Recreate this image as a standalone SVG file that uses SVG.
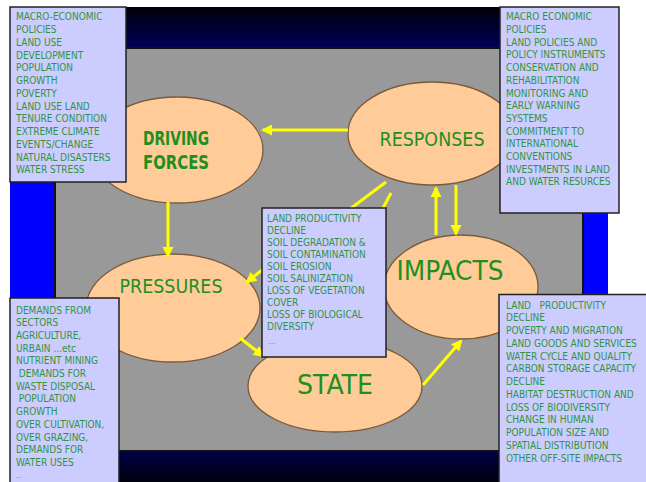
<svg xmlns="http://www.w3.org/2000/svg" width="646" height="482" viewBox="0 0 646 482">
<defs>
<linearGradient id="gTop" x1="0" y1="0" x2="0" y2="1">
<stop offset="0" stop-color="#000008"/>
<stop offset="1" stop-color="#00005c"/>
</linearGradient>
<linearGradient id="gBot" x1="0" y1="0" x2="0" y2="1">
<stop offset="0" stop-color="#000048"/>
<stop offset="1" stop-color="#00000e"/>
</linearGradient>
<marker id="ah" markerUnits="userSpaceOnUse" markerWidth="12" markerHeight="12" refX="9" refY="6" orient="auto">
<path d="M0,0.5 L11,6 L0,11.5 z" fill="#ffff00"/>
</marker>
<style>
.ell{fill:#ffcc99;stroke:#7a5a3a;stroke-width:1.3}
.lbl{fill:#1f8f1f;font-family:"DejaVu Sans Condensed","DejaVu Sans",sans-serif;font-stretch:condensed;text-anchor:middle}
.box{fill:#ccccff;stroke:#222;stroke-width:1.5}
.t{fill:#2f9440;font-family:"DejaVu Sans Condensed","DejaVu Sans",sans-serif;font-stretch:condensed;font-size:10px}
.pre{white-space:pre}
.sm{font-size:6.5px}
.con{stroke:#ffff00;stroke-width:3;fill:none}
</style>
</defs>
<rect x="0" y="0" width="646" height="482" fill="#ffffff"/>
<rect x="10" y="7" width="598" height="475" fill="#0000ff"/>
<rect x="10" y="7" width="598" height="42" fill="url(#gTop)"/>
<rect x="10" y="451" width="598" height="31" fill="url(#gBot)"/>
<rect x="55" y="48" width="528" height="403" fill="#999999" stroke="#111" stroke-width="2"/>

<g id="node-driving-forces">
<ellipse class="ell" cx="177" cy="150" rx="86" ry="53"/>
<text class="lbl" x="176" y="145" font-size="19" font-weight="bold" textLength="66" lengthAdjust="spacingAndGlyphs">DRIVING</text>
<text class="lbl" x="176" y="169" font-size="19" font-weight="bold" textLength="66" lengthAdjust="spacingAndGlyphs">FORCES</text>
</g>
<g id="node-responses">
<ellipse class="ell" cx="432" cy="133.5" rx="84" ry="51.5"/>
<text class="lbl" x="432" y="146" font-size="19.5" textLength="105" lengthAdjust="spacingAndGlyphs">RESPONSES</text>
</g>
<g id="node-pressures">
<ellipse class="ell" cx="173" cy="308" rx="87" ry="54"/>
<text class="lbl" x="171" y="293" font-size="19.5" textLength="103" lengthAdjust="spacingAndGlyphs">PRESSURES</text>
</g>
<g id="node-impacts">
<ellipse class="ell" cx="461" cy="287" rx="77" ry="52"/>
<text class="lbl" x="450" y="280" font-size="26" textLength="107" lengthAdjust="spacingAndGlyphs">IMPACTS</text>
</g>
<g id="node-state">
<ellipse class="ell" cx="335" cy="386" rx="87" ry="46"/>
<text class="lbl" x="335" y="394" font-size="26" textLength="76" lengthAdjust="spacingAndGlyphs">STATE</text>
</g>

<g id="connectors">
<line class="con" x1="348" y1="130" x2="263" y2="130" marker-end="url(#ah)"/>
<line class="con" x1="168" y1="202" x2="168" y2="256" marker-end="url(#ah)"/>
<line class="con" x1="262" y1="270" x2="247" y2="282" marker-end="url(#ah)"/>
<line class="con" x1="240" y1="338" x2="263" y2="356" marker-end="url(#ah)"/>
<line class="con" x1="423" y1="385" x2="461" y2="341" marker-end="url(#ah)"/>
<line class="con" x1="436" y1="235" x2="436" y2="188" marker-end="url(#ah)"/>
<line class="con" x1="456" y1="185" x2="456" y2="234" marker-end="url(#ah)"/>
<line class="con" x1="386" y1="182" x2="346" y2="212"/>
<line class="con" x1="391" y1="193" x2="381" y2="212"/>
</g>

<g id="box-driving-forces">
<rect class="box" x="10" y="7" width="116" height="175"/>
<text class="t" x="16" y="20.3">MACRO-ECONOMIC</text>
<text class="t" x="16" y="33">POLICIES</text>
<text class="t" x="16" y="45.8">LAND USE</text>
<text class="t" x="16" y="58.5">DEVELOPMENT</text>
<text class="t" x="16" y="71.3">POPULATION</text>
<text class="t" x="16" y="84">GROWTH</text>
<text class="t" x="16" y="96.8">POVERTY</text>
<text class="t" x="16" y="109.5">LAND USE LAND</text>
<text class="t" x="16" y="122.3">TENURE CONDITION</text>
<text class="t" x="16" y="135">EXTREME CLIMATE</text>
<text class="t" x="16" y="147.8">EVENTS/CHANGE</text>
<text class="t" x="16" y="160.5">NATURAL DISASTERS</text>
<text class="t" x="16" y="173.3">WATER STRESS</text>
</g>

<g id="box-responses">
<rect class="box" x="500" y="7" width="119" height="206"/>
<text class="t" x="506" y="20.3">MACRO ECONOMIC</text>
<text class="t" x="506" y="33">POLICIES</text>
<text class="t" x="506" y="45.7">LAND POLICIES AND</text>
<text class="t" x="506" y="58.4">POLICY INSTRUMENTS</text>
<text class="t" x="506" y="71.1">CONSERVATION AND</text>
<text class="t" x="506" y="83.8">REHABILITATION</text>
<text class="t" x="506" y="96.5">MONITORING AND</text>
<text class="t" x="506" y="109.2">EARLY WARNING</text>
<text class="t" x="506" y="121.9">SYSTEMS</text>
<text class="t" x="506" y="134.6">COMMITMENT TO</text>
<text class="t" x="506" y="147.3">INTERNATIONAL</text>
<text class="t" x="506" y="160">CONVENTIONS</text>
<text class="t" x="506" y="172.7">INVESTMENTS IN LAND</text>
<text class="t" x="506" y="185.4">AND WATER RESURCES</text>
</g>

<g id="box-state">
<rect class="box" x="262" y="208" width="124" height="149"/>
<text class="t" x="267" y="221.8">LAND PRODUCTIVITY</text>
<text class="t" x="267" y="233.8">DECLINE</text>
<text class="t" x="267" y="245.8">SOIL DEGRADATION &amp;</text>
<text class="t" x="267" y="257.8">SOIL CONTAMINATION</text>
<text class="t" x="267" y="269.8">SOIL EROSION</text>
<text class="t" x="267" y="281.8">SOIL SALINIZATION</text>
<text class="t" x="267" y="293.8">LOSS OF VEGETATION</text>
<text class="t" x="267" y="305.8">COVER</text>
<text class="t" x="267" y="317.8">LOSS OF BIOLOGICAL</text>
<text class="t" x="267" y="329.8">DIVERSITY</text>
<text class="t sm" x="268" y="344">....</text>
</g>

<g id="box-pressures">
<rect class="box" x="10" y="298" width="109" height="190"/>
<text class="t" x="16" y="313.5">DEMANDS FROM</text>
<text class="t" x="16" y="326.2">SECTORS</text>
<text class="t" x="16" y="338.9">AGRICULTURE,</text>
<text class="t" x="16" y="351.6">URBAIN ...etc</text>
<text class="t" x="16" y="364.3">NUTRIENT MINING</text>
<text class="t pre" x="16" y="377"> DEMANDS FOR</text>
<text class="t" x="16" y="389.7">WASTE DISPOSAL</text>
<text class="t pre" x="16" y="402.4"> POPULATION</text>
<text class="t" x="16" y="415.1">GROWTH</text>
<text class="t" x="16" y="427.8">OVER CULTIVATION,</text>
<text class="t" x="16" y="440.5">OVER GRAZING,</text>
<text class="t" x="16" y="453.2">DEMANDS FOR</text>
<text class="t" x="16" y="465.9">WATER USES</text>
<text class="t sm" x="16" y="478">...</text>
</g>

<g id="box-impacts">
<rect class="box" x="499" y="294.5" width="152" height="192"/>
<text class="t pre" x="506" y="308.5">LAND   PRODUCTIVITY</text>
<text class="t" x="506" y="321.2">DECLINE</text>
<text class="t" x="506" y="334">POVERTY AND MIGRATION</text>
<text class="t" x="506" y="346.7">LAND GOODS AND SERVICES</text>
<text class="t" x="506" y="359.5">WATER CYCLE AND QUALITY</text>
<text class="t" x="506" y="372.2">CARBON STORAGE CAPACITY</text>
<text class="t" x="506" y="385">DECLINE</text>
<text class="t" x="506" y="397.7">HABITAT DESTRUCTION AND</text>
<text class="t" x="506" y="410.5">LOSS OF BIODIVERSITY</text>
<text class="t" x="506" y="423.2">CHANGE IN HUMAN</text>
<text class="t" x="506" y="436">POPULATION SIZE AND</text>
<text class="t" x="506" y="448.7">SPATIAL DISTRIBUTION</text>
<text class="t" x="506" y="461.5">OTHER OFF-SITE IMPACTS</text>
</g>
</svg>
